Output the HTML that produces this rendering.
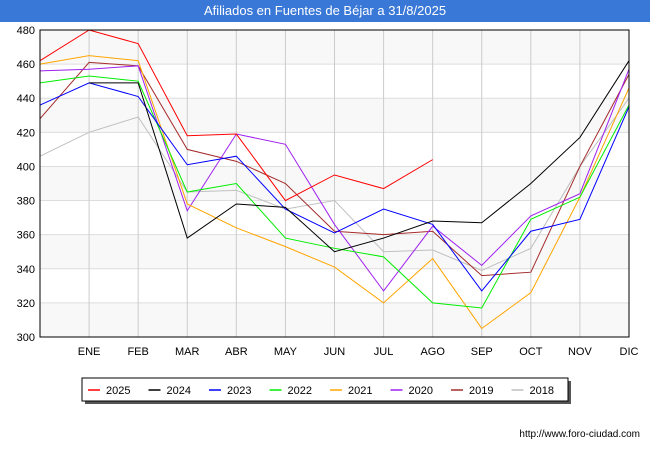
<!DOCTYPE html>
<html><head><meta charset="utf-8"><style>
body{margin:0;width:650px;height:450px;background:#fff;font-family:"Liberation Sans",sans-serif;overflow:hidden;position:relative}
#title{position:absolute;left:0;top:0;width:650px;height:22px;background:#3a78d8;color:#fff;font-size:13px;text-align:center;line-height:22px}
</style></head><body>
<div id="title">Afiliados en Fuentes de Béjar a 31/8/2025</div>
<svg id="chart" width="650" height="450" style="position:absolute;left:0;top:0"></svg>
<script>
const months=["","ENE","FEB","MAR","ABR","MAY","JUN","JUL","AGO","SEP","OCT","NOV","DIC"];
const yTicks=[300,320,340,360,380,400,420,440,460,480];
const seriesNames=["2025","2024","2023","2022","2021","2020","2019","2018"];
const seriesColors=["#ff0000","#000000","#0000ff","#00ee00","#ffa500","#a020f0","#a52a2a","#c0c0c0"];
const s2025=[462,480,472,418,419,380,395,387,404];
const s2024=[null,449,449,358,378,376,350,358,368,367,390,417,462];
const s2023=[436,449,441,401,406,375,361,375,366,327,362,369,435];
const s2022=[449,453,450,385,390,358,352,347,320,317,369,382,436];
const s2021=[460,465,462,378,364,353,341,320,346,305,326,382,446];
const s2020=[456,457,459,374,419,413,366,327,365,342,371,384,457];
const s2019=[428,461,459,410,403,390,362,360,362,336,338,400,454];
const s2018=[406,420,429,385,386,375,380,350,351,339,352,400,440];
const allSeries=[s2025,s2024,s2023,s2022,s2021,s2020,s2019,s2018];
const NS="http://www.w3.org/2000/svg";
const svg=document.getElementById('chart');
const X0=40,X1=629,Y0=30,Y1=337,YMIN=300,YMAX=480;
const xs=i=>X0+i*(X1-X0)/(months.length-1);
const ys=v=>Y1-(v-YMIN)*(Y1-Y0)/(YMAX-YMIN);
function mk(t,a){const e=document.createElementNS(NS,t);for(const k in a)e.setAttribute(k,a[k]);svg.appendChild(e);return e;}
for(let i=0;i<yTicks.length-1;i++){
 if((yTicks.length-2-i)%2===0){
  const r=mk('rect',{x:X0,y:ys(yTicks[i+1]),width:X1-X0,height:ys(yTicks[i])-ys(yTicks[i+1]),fill:'#f8f8f8'});
  
  
 }
}
yTicks.forEach(v=>{
 const l=mk('line',{x1:X0,x2:X1,y1:ys(v),y2:ys(v),stroke:'#dddddd','stroke-width':1});
 
 
 const t=mk('text',{x:X0-5,y:ys(v)+4,'text-anchor':'end','font-size':11,fill:'#000'});
 t.textContent=v;
 
 
});
months.forEach((m,i)=>{
 if(i>0){
  const l=mk('line',{x1:xs(i),x2:xs(i),y1:Y0,y2:Y1,stroke:'#cccccc','stroke-width':1});
  
  
 }
 const t=mk('text',{x:xs(i),y:Y1+18,'text-anchor':'middle','font-size':11,fill:'#000'});
 t.textContent=m;
 
 
});
for(let s=allSeries.length-1;s>=0;s--){
 let d='',pen=false;
 allSeries[s].forEach((v,i)=>{if(v==null){pen=false;return;}d+=(pen?'L':'M')+xs(i)+','+ys(v);pen=true;});
 const p=mk('path',{d:d,fill:'none',stroke:seriesColors[s],'stroke-width':1});
 
 
}
const fr=mk('rect',{x:X0,y:Y0,width:X1-X0,height:Y1-Y0,fill:'none',stroke:'#000','stroke-width':1});


// legend
const sh=mk('rect',{x:85,y:381,width:486,height:23,fill:'#555'});


const lb=mk('rect',{x:82,y:378,width:486,height:23,fill:'#fff',stroke:'#000','stroke-width':1});


seriesNames.forEach((n,i)=>{
 const x=88+i*60.5;
 const l=mk('line',{x1:x,x2:x+12,y1:390,y2:390,stroke:seriesColors[i],'stroke-width':1.5});
 
 
 const t=mk('text',{x:x+18,y:394,'font-size':11,fill:'#000'});
 t.textContent=n;
 
 
});
const u=mk('text',{x:640,y:437,'text-anchor':'end','font-size':10,fill:'#000'});
u.textContent='http://www.foro-ciudad.com';


</script>
</body></html>
